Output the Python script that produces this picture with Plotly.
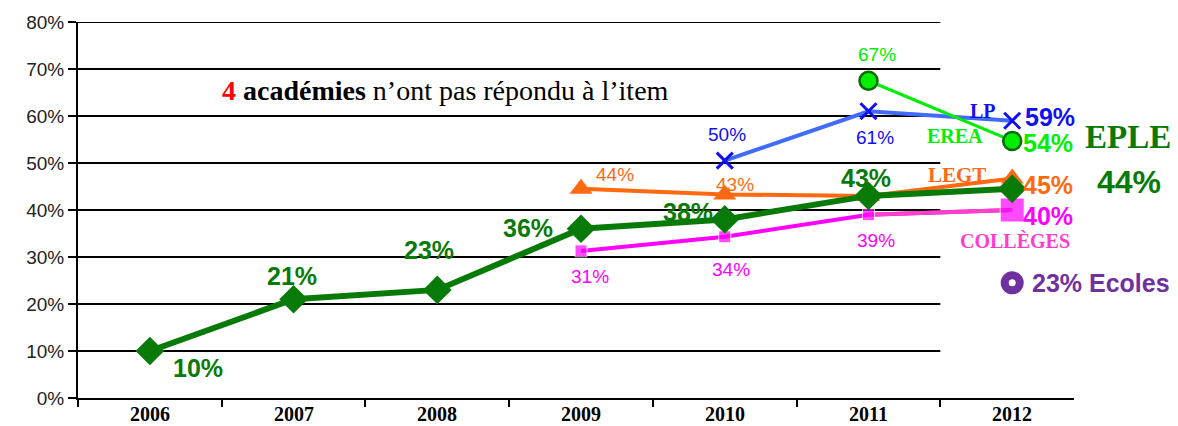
import plotly.graph_objects as go

years = ["2006", "2007", "2008", "2009", "2010", "2011", "2012"]
y_ticks = [0, 10, 20, 30, 40, 50, 60, 70, 80]

eple = [10, 21, 23, 36, 38, 43, 44.5]
eple_labels = ["10%", "21%", "23%", "36%", "38%", "43%", "44%"]

legt_years = ["2009", "2010", "2011", "2012"]
legt = [44.5, 43.3, 43, 46.7]
legt_labels = ["44%", "43%", "", "45%"]

col_years = ["2009", "2010", "2011", "2012"]
colleges = [31.3, 34.3, 39, 40]
col_labels = ["31%", "34%", "39%", "40%"]

lp_years = ["2010", "2011", "2012"]
lp = [50.5, 61, 59]
lp_labels = ["50%", "61%", "59%"]

erea_years = ["2011", "2012"]
erea = [67.5, 54.7]
erea_labels = ["67%", "54%"]

ecoles_year = "2012"
ecoles = 24.5
ecoles_label = "23% Ecoles"

GREEN = "#077a07"
ORANGE = "#ff6a10"
MAGENTA = "#ff00ff"
PINK = "#ff40c8"
BLUE_LINE = "#3f6cff"
BLUE = "#1010f0"
LIME = "#00ee00"
PURPLE = "#7030a0"
SANS = "Liberation Sans, Arial, sans-serif"
SERIF = "Liberation Serif, Times New Roman, serif"

# page body has an 8px margin, so the figure is drawn 8px in from the window edge
W, H = 1170, 418
L, R, T, B = 70, 104, 14, 28

idx = {y: i for i, y in enumerate(years)}

fig = go.Figure()

# gridlines (they stop before the last category, as in the reference)
for v in y_ticks[1:]:
    fig.add_shape(type="line", xref="x", yref="y", x0=-0.5, x1=5.5, y0=v, y1=v,
                  line=dict(color="black", width=2), layer="below")

fig.add_trace(go.Scatter(x=[idx[y] for y in legt_years], y=legt, mode="lines+markers",
                         line=dict(color=ORANGE, width=4),
                         marker=dict(symbol="triangle-up", size=20, color=ORANGE)))
fig.add_trace(go.Scatter(x=[idx[y] for y in col_years], y=colleges, mode="lines",
                         line=dict(color=MAGENTA, width=4)))
fig.add_trace(go.Scatter(x=[idx[y] for y in col_years[-2:]], y=colleges[-2:], mode="lines",
                         line=dict(color=PINK, width=4)))
fig.add_trace(go.Scatter(x=[idx[y] for y in col_years], y=colleges, mode="markers",
                         marker=dict(symbol="square", size=[12, 12, 12, 24], color=MAGENTA)))
fig.add_trace(go.Scatter(x=[idx[y] for y in years], y=eple, mode="lines+markers",
                         line=dict(color=GREEN, width=6),
                         marker=dict(symbol="diamond", size=22, color=GREEN)))
fig.add_trace(go.Scatter(x=[idx[y] for y in lp_years], y=lp, mode="lines+markers",
                         line=dict(color=BLUE_LINE, width=4),
                         marker=dict(symbol="x-thin", size=16, color=BLUE,
                                     line=dict(color=BLUE, width=3))))
fig.add_trace(go.Scatter(x=[idx[y] for y in erea_years], y=erea, mode="lines+markers",
                         line=dict(color=LIME, width=3),
                         marker=dict(symbol="circle", size=18, color=LIME,
                                     line=dict(color="#0a6a0a", width=2.5))))
fig.add_trace(go.Scatter(x=[idx[ecoles_year]], y=[ecoles], mode="markers",
                         marker=dict(symbol="circle", size=23, color=PURPLE)))
fig.add_trace(go.Scatter(x=[idx[ecoles_year]], y=[ecoles], mode="markers",
                         marker=dict(symbol="circle", size=7, color="white")))

ann = []


def lab(yr, y, text, dx, dy, color, size, bold=False, font=SANS, xanchor="center"):
    if not text:
        return
    t = f"<b>{text}</b>" if bold else text
    ann.append(dict(x=idx[yr], y=y, xref="x", yref="y", text=t, showarrow=False,
                    xanchor=xanchor, yanchor="middle",
                    xshift=dx, yshift=dy, font=dict(family=font, size=size, color=color)))


eple_shifts = [(48, -17), (-2, 23), (-8, 40), (-53, 1), (-37, 7), (-2, 18), (117, 7)]
for i, (yr, v, t) in enumerate(zip(years, eple, eple_labels)):
    big = i == len(years) - 1
    lab(yr, v, t, *eple_shifts[i], GREEN, 32 if big else 25, bold=True)
lab(years[-1], eple[-1], "EPLE", 116, 52, GREEN, 33, bold=True, font=SERIF)

legt_shifts = [(34, 14), (10, 10), (0, 0), (36, -6)]
for i, (yr, v, t) in enumerate(zip(legt_years, legt, legt_labels)):
    last = i == len(legt) - 1
    lab(yr, v, t, *legt_shifts[i], ORANGE, 25 if last else 19, bold=last)
lab(legt_years[-1], legt[-1], "LEGT", -55, 4, ORANGE, 21, bold=True, font=SERIF)

col_shifts = [(9, -26), (6, -33), (8, -26), (36, -6)]
for i, (yr, v, t) in enumerate(zip(col_years, colleges, col_labels)):
    last = i == len(colleges) - 1
    lab(yr, v, t, *col_shifts[i], MAGENTA, 25 if last else 19, bold=last)
lab(col_years[-1], colleges[-1], "COLLÈGES", 3, -31, "#ff3ccc", 20, bold=True, font=SERIF)

lp_shifts = [(2, 26), (7, -26), (38, 4)]
for i, (yr, v, t) in enumerate(zip(lp_years, lp, lp_labels)):
    last = i == len(lp) - 1
    lab(yr, v, t, *lp_shifts[i], BLUE, 25 if last else 19, bold=last)
lab(lp_years[-1], lp[-1], "LP", -29, 10, BLUE, 20, bold=True, font=SERIF)

erea_shifts = [(9, 26), (36, -2)]
for i, (yr, v, t) in enumerate(zip(erea_years, erea, erea_labels)):
    last = i == len(erea) - 1
    lab(yr, v, t, *erea_shifts[i], LIME, 25 if last else 19, bold=last)
lab(erea_years[-1], erea[-1], "EREA", -57, 5, LIME, 20, bold=True, font=SERIF)

lab(ecoles_year, ecoles, ecoles_label, 18, 0, PURPLE, 25, bold=True, xanchor="left")

# category labels under the x axis
for yr in years:
    ann.append(dict(x=idx[yr], y=0, xref="x", yref="y", text=f"<b>{yr}</b>",
                    showarrow=False, yanchor="middle", yshift=-16,
                    font=dict(family=SERIF, size=20, color="black")))

PW, PH = W - L - R, H - T - B
ann.append(dict(x=(437 - L) / PW, y=(H - B - 82) / PH,
                xref="paper", yref="paper", showarrow=False, yanchor="middle",
                text='<span style="color:#ff0000"><b>4</b></span> <b>académies</b> n’ont pas répondu à l’item',
                font=dict(family=SERIF, size=28, color="black")))

fig.update_layout(
    width=W, height=H,
    margin=dict(l=L, r=R, t=T, b=B, autoexpand=False),
    paper_bgcolor="white", plot_bgcolor="white",
    showlegend=False,
    annotations=ann,
    xaxis=dict(range=[-0.5, 6.43], tickvals=list(range(len(years))),
               showticklabels=False,
               ticks="", showgrid=False, automargin=False,
               minor=dict(tick0=0.5, dtick=1, ticks="outside", ticklen=7, tickwidth=2,
                          tickcolor="black"),
               showline=True, linecolor="black", linewidth=2, zeroline=False),
    yaxis=dict(range=[0, 80], tickvals=y_ticks, ticktext=[f"{v}%" for v in y_ticks],
               ticks="outside", ticklen=8, tickwidth=2, tickcolor="black", automargin=False,
               showgrid=False, showline=True, linecolor="black", linewidth=2,
               zeroline=False, tickfont=dict(family=SANS, size=19, color="#222")),
)

fig.write_html("out.html")
